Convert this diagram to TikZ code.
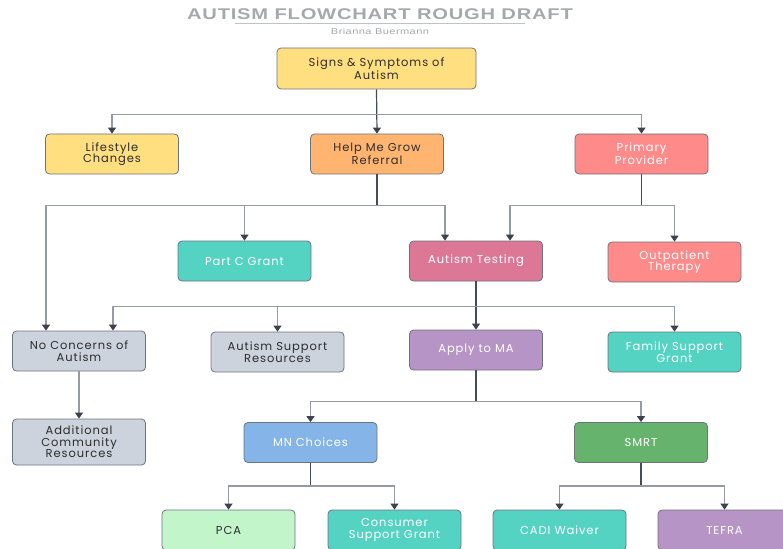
\documentclass[tikz,border=0pt]{standalone}
\usepackage{fontspec}
\setmainfont{Poppins}[LetterSpace=8]
\newfontfamily\titlefont{Liberation Sans}[FakeStretch=1.3, LetterSpace=5]
\usetikzlibrary{arrows.meta, calc}
\definecolor{boxline}{RGB}{110, 116, 126}
\definecolor{lineclr}{RGB}{150, 154, 162}
\definecolor{stemclr}{RGB}{70, 76, 86}
\definecolor{tipclr}{RGB}{60, 66, 78}
\definecolor{textdark}{RGB}{45, 45, 45}
\definecolor{titlegray}{RGB}{165, 168, 172}
\definecolor{yellowfill}{RGB}{255, 223, 128}
\definecolor{orangefill}{RGB}{255, 181, 112}
\definecolor{salmonfill}{RGB}{255, 138, 138}
\definecolor{tealfill}{RGB}{85, 211, 194}
\definecolor{rosefill}{RGB}{220, 120, 149}
\definecolor{grayfill}{RGB}{205, 211, 220}
\definecolor{purplefill}{RGB}{183, 148, 198}
\definecolor{bluefill}{RGB}{133, 180, 232}
\definecolor{greenfill}{RGB}{102, 179, 109}
\definecolor{mintfill}{RGB}{194, 245, 202}
\tikzset{
    box/.style={draw=boxline, line width=0.8pt, rounded corners=4pt,
        minimum width=133pt, minimum height=40pt, align=center,
        inner sep=1pt, font=\fontsize{11.5}{11.5}\selectfont},
    darkbox/.style={box, text=textdark},
    lightbox/.style={box, text=white},
    stem/.style={draw=stemclr, line width=1.2pt},
    arr/.style={draw=lineclr, line width=1.2pt,
        -{Triangle[length=6pt, width=8pt, color=tipclr]}},
}

\begin{document}
\begin{tikzpicture}[x=1pt, y=-1pt]
    \clip (0, 0) rectangle (783, 548);
    \useasboundingbox (0, 0) rectangle (783, 548);
    % heading
    \node[font=\titlefont\bfseries\fontsize{15.5}{15.5}\selectfont, text=titlegray]
        (title) at (380, 14) {AUTISM FLOWCHART ROUGH DRAFT};
    \draw[titlegray!70, line width=1pt] (235, 24) -- (525, 24);
    \node[font=\titlefont\fontsize{8.5}{9}\selectfont, text=titlegray]
        (author) at (380, 31.5) {Brianna Buermann};

    % boxes
    \node[darkbox, fill=yellowfill, minimum width=199pt, minimum height=41pt]
        (signs) at (376.5, 68.5) {Signs \& Symptoms of\\Autism};
    \node[darkbox, fill=yellowfill] (life) at (112, 154) {Lifestyle\\Changes};
    \node[darkbox, fill=orangefill] (hmg) at (377, 154) {Help Me Grow\\Referral};
    \node[lightbox, fill=salmonfill] (prim) at (641.5, 154) {Primary\\Provider};
    \node[lightbox, fill=tealfill] (partc) at (244.5, 261) {Part C Grant};
    \node[lightbox, fill=rosefill] (test) at (476, 261) {Autism Testing};
    \node[lightbox, fill=salmonfill] (outp) at (674.5, 262) {Outpatient\\Therapy};
    \node[darkbox, fill=grayfill] (nocon) at (79, 351) {No Concerns of\\Autism};
    \node[darkbox, fill=grayfill] (asr) at (277.5, 352) {Autism Support\\Resources};
    \node[lightbox, fill=purplefill] (ma) at (476, 350) {Apply to MA};
    \node[lightbox, fill=tealfill] (fsg) at (674.5, 352) {Family Support\\Grant};
    \node[darkbox, fill=grayfill, minimum height=46pt]
        (addl) at (79, 442) {Additional\\Community\\Resources};
    \node[lightbox, fill=bluefill] (mnc) at (310.5, 442.5) {MN Choices};
    \node[lightbox, fill=greenfill] (smrt) at (641, 442.5) {SMRT};
    \node[darkbox, fill=mintfill] (pca) at (228.5, 530) {PCA};
    \node[lightbox, fill=tealfill] (csg) at (394.5, 530) {Consumer\\Support Grant};
    \node[lightbox, fill=tealfill] (cadi) at (559.5, 530) {CADI Waiver};
    \node[lightbox, fill=purplefill] (tefra) at (724.5, 530) {TEFRA};

    % junctions
    \coordinate (j1) at ($(signs.south)+(0, 25)$);
    \coordinate (j2) at ($(hmg.south)+(0, 31)$);
    \coordinate (j3) at ($(prim.south)+(0, 31)$);
    \coordinate (j4) at ($(test.south)+(0, 25)$);
    \coordinate (j5) at ($(ma.south)+(0, 31)$);
    \coordinate (j6) at ($(mnc.south)+(0, 23)$);
    \coordinate (j7) at ($(smrt.south)+(0, 23)$);

    % connectors
    \draw[arr, draw=stemclr] (signs.south) -- (hmg.north);
    \draw[arr] (j1) -| (life.north);
    \draw[arr] (j1) -| (prim.north);

    \draw[stem] (hmg.south) -- (j2);
    \draw[arr] (j2) -| ([xshift=-33pt]nocon.north);
    \draw[arr] (j2) -| (partc.north);
    \draw[arr] (j2) -| ([xshift=-31pt]test.north);

    \draw[stem] (prim.south) -- (j3);
    \draw[arr] (j3) -| ([xshift=34pt]test.north);
    \draw[arr] (j3) -| (outp.north);

    \draw[arr, draw=stemclr] (test.south) -- (ma.north);
    \draw[arr] (j4) -| ([xshift=34pt]nocon.north);
    \draw[arr] (j4) -| (asr.north);
    \draw[arr] (j4) -| (fsg.north);

    \draw[arr] (nocon) -- (addl);

    \draw[stem] (ma.south) -- (j5);
    \draw[arr] (j5) -| (mnc.north);
    \draw[arr] (j5) -| (smrt.north);

    \draw[stem] (mnc.south) -- (j6);
    \draw[arr] (j6) -| (pca.north);
    \draw[arr] (j6) -| (csg.north);

    \draw[stem] (smrt.south) -- (j7);
    \draw[arr] (j7) -| (cadi.north);
    \draw[arr] (j7) -| (tefra.north);
\end{tikzpicture}
\end{document}
